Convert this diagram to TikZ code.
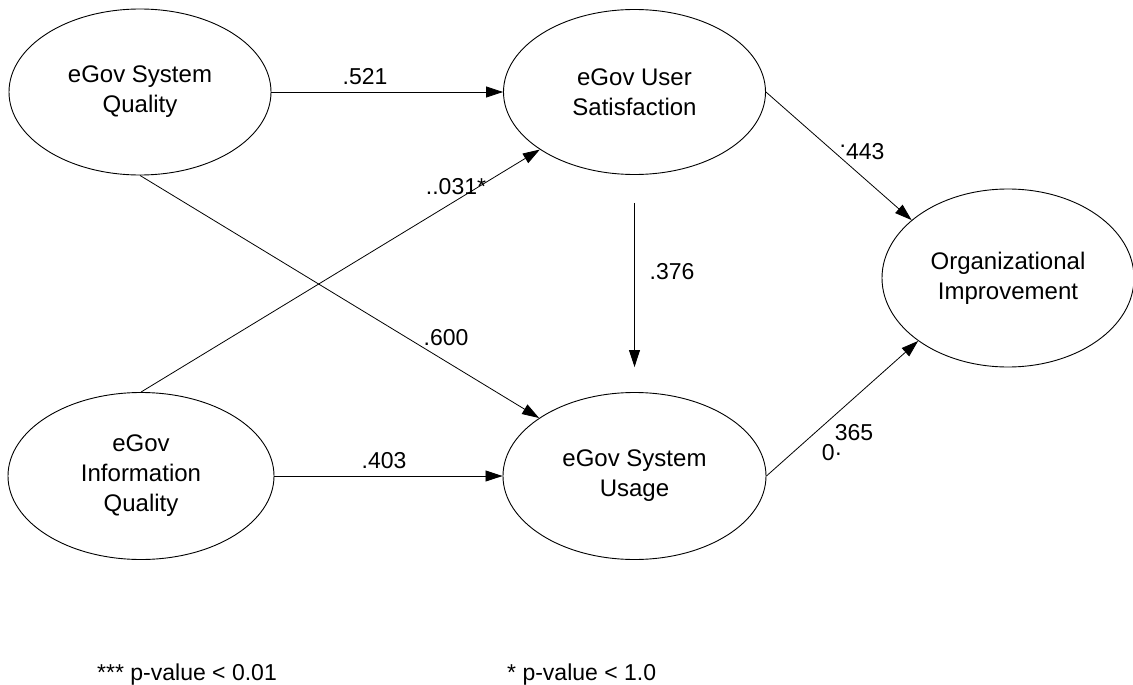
\documentclass[tikz,border=0pt]{standalone}
\usepackage{fontspec}
\setmainfont{Liberation Sans}
\usetikzlibrary{shapes.geometric,arrows.meta}
\tikzset{
  ell/.style={draw, ellipse, line width=0.9pt, inner sep=0pt, align=center,
    font=\fontsize{24}{30}\selectfont},
  conn/.style={line width=0.8pt, -{Triangle[length=17pt,width=11pt]}},
  lbl/.style={inner sep=0pt, font=\fontsize{23}{27}\selectfont},
  foot/.style={inner sep=0pt, anchor=base west, font=\fontsize{23}{27}\selectfont}
}
\begin{document}
\begin{tikzpicture}[x=1pt,y=-1pt]
\useasboundingbox (0,0) rectangle (1133,685);
\node[ell, minimum width=262pt, minimum height=166pt] (E1) at (140,92) {eGov System\\Quality};
\node[ell, minimum width=262pt, minimum height=165pt] (E2) at (634.5,92) {eGov User\\Satisfaction};
\node[ell, minimum width=266pt, minimum height=167pt] (E3) at (141,476) {eGov\\Information\\Quality};
\node[ell, minimum width=263pt, minimum height=167pt] (E4) at (634.5,476) {eGov System\\Usage};
\node[ell, minimum width=252pt, minimum height=178pt] (E5) at (1008,278) {Organizational\\Improvement};

\draw[conn] (E1.east) -- (E2.west);
\draw[conn] (E3.east) -- (E4.west);
\draw[conn] (E1.south) -- (E4);
\draw[conn] (E3.north) -- (E2);
\draw[conn] ([yshift=-28pt]E2.south) -- ([yshift=25pt]E4.north);
\draw[conn] (E2.east) -- (E5.149);
\draw[conn] (E4.east) -- (E5.215);

\node[lbl] (l1) at (365,77) {.521};
\node[lbl] (l2) at (456,187) {..031*};
\node[lbl] (l3) at (446,338) {.600};
\node[lbl] (l4) at (672,272) {.376};
\node[lbl] (l5) at (384,461) {.403};
\node[lbl] (l6) at (862,152) {\raisebox{0.55em}{.}443};
\node[lbl] (l7) at (854,433) {365};
\node[lbl] (l8) at (832,453) {0·};

\node[foot] (f1) at (97,680) {*** p-value < 0.01};
\node[foot] (f2) at (507,680) {* p-value < 1.0};
\end{tikzpicture}
\end{document}
